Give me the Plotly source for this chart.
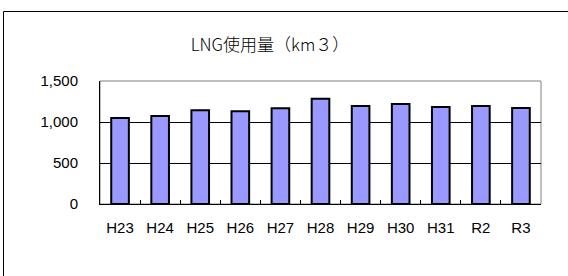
import plotly.graph_objects as go

categories = ["H23", "H24", "H25", "H26", "H27", "H28", "H29", "H30", "H31", "R2", "R3"]
values = [1048, 1073, 1143, 1130, 1167, 1284, 1195, 1220, 1183, 1195, 1170]
y_ticks = [0, 500, 1000, 1500]
y_tick_labels = ["0", "500", "1,000", "1,500"]
title_text = "LNG使用量（km３）"

FONT = "MS PGothic, Liberation Sans, Noto Sans CJK JP, sans-serif"
TFONT = "MS PGothic, Noto Sans CJK JP, sans-serif"

fig = go.Figure()
fig.add_trace(go.Bar(
    x=categories, y=values,
    marker=dict(color="#9999FF", line=dict(color="#000000", width=2)),
    width=0.44,
))

W, H = 568, 276
L, R, T, B = 100, 27, 81, 72
pw, ph = W - L - R, H - T - B

def px_x(p):
    return (p - L) / pw

def px_y(p):
    return (H - B - p) / ph

fig.update_layout(
    width=W, height=H,
    margin=dict(l=L, r=R, t=T, b=B),
    paper_bgcolor="white", plot_bgcolor="white",
    showlegend=False,
    font=dict(family=FONT, size=15, color="black"),
    title=dict(text=title_text, x=270 / W, xref="container", xanchor="center",
               y=(H - 45) / H, yanchor="middle",
               font=dict(family=TFONT, size=17, color="black", weight=300)),
    xaxis=dict(
        type="category", showgrid=False, showline=True, linecolor="black", linewidth=1,
        ticks="inside", tickson="boundaries", ticklen=4, tickcolor="black",
        tickfont=dict(family=FONT, size=15, color="black"),
        ticklabelstandoff=10,
        range=[-0.5, len(categories) - 0.5], fixedrange=True,
    ),
    yaxis=dict(
        range=[0, 1500], tickvals=y_ticks, ticktext=y_tick_labels,
        showgrid=True, gridcolor="black", gridwidth=1,
        showline=True, linecolor="black", linewidth=1,
        ticks="", ticklabelstandoff=18,
        tickfont=dict(family=FONT, size=15, color="black"),
        zeroline=False, fixedrange=True,
    ),
    shapes=[
        dict(type="rect", xref="paper", yref="paper", x0=0, x1=1, y0=0, y1=1,
             line=dict(color="#808080", width=1), layer="below"),
        dict(type="line", xref="paper", yref="paper",
             x0=px_x(3.5), x1=px_x(568), y0=px_y(11.5), y1=px_y(11.5),
             line=dict(color="black", width=1)),
        dict(type="line", xref="paper", yref="paper",
             x0=px_x(3.5), x1=px_x(3.5), y0=px_y(11.5), y1=px_y(276),
             line=dict(color="black", width=1)),
    ],
)

fig.write_html(
    "out.html",
    config={"displayModeBar": False, "staticPlot": True},
    post_script="document.body.style.margin='0';document.body.style.overflow='hidden';",
)
